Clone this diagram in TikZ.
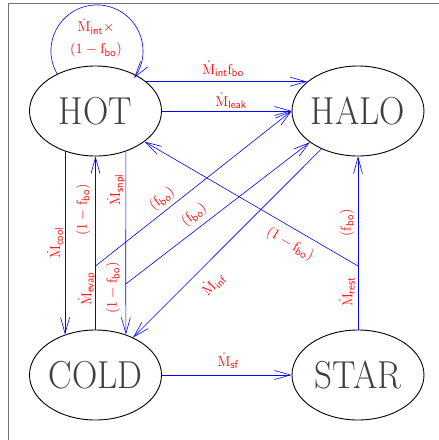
\documentclass[tikz,border=0pt]{standalone}
\usepackage{amsmath}
\usetikzlibrary{arrows.meta, shapes.geometric}
\definecolor{flowblue}{RGB}{0,0,255}
\definecolor{ratered}{RGB}{255,0,0}
\tikzset{
  phase/.style={draw=black, line width=0.9pt, ellipse, minimum width=132pt,
                minimum height=90pt, inner sep=0pt},
  phasename/.style={text=black!75, font=\fontsize{39}{39}\selectfont, xscale=0.9},
  flowline/.style={draw=flowblue, line width=0.6pt},
  flow/.style={flowline, -{Straight Barb[length=16pt, width=9pt]}},
  rate/.style={text=ratered, font=\fontsize{15}{17}\selectfont, inner sep=1pt}
}
\newcommand{\ratesub}[1]{\text{\fontsize{11}{11}\sffamily #1}}
\newcommand{\Mrate}[1]{$\dot{\mathrm{M}}_{\ratesub{#1}}$}
\newcommand{\fbo}{\mathrm{f}_{\ratesub{bo}}}

\begin{document}
\begin{tikzpicture}[x=1pt, y=-1pt]
  \useasboundingbox (0,0) rectangle (439,440);
  \draw[black!55, line width=0.8pt] (8,440) -- (8,3) -- (439,3);

  % phases
  \node[phase, label={[phasename]center:HOT}] (hot) at (95.5,111) {};
  \node[phase, label={[phasename]center:HALO}] (halo) at (358,111) {};
  \node[phase, label={[phasename]center:COLD}] (cold) at (95.5,375) {};
  \node[phase, label={[phasename]center:STAR}] (star) at (358,375) {};

  % split points
  \coordinate (evapsplit) at (95.5,266);
  \coordinate (snplsplit) at (125.7,284);
  \coordinate (restsplit) at (358,266);

  % flows
  \draw[flow] (hot.136) arc[start angle=-210, end angle=36, radius=46];
  \draw[flow] (hot.30) -- (halo.150);
  \draw[flow] (hot.east) -- (halo.west);
  \draw[flow] (hot.233) -- (cold.127);
  \draw[flowline] (cold.north) -- (evapsplit);
  \draw[flow] (evapsplit) -- (hot.south);
  \draw[flow] (evapsplit) -- (halo.west);
  \draw[flowline] (hot.307) -- (snplsplit);
  \draw[flow] (snplsplit) -- (cold.53);
  \draw[flow] (snplsplit) -- (halo.213);
  \draw[flow] (halo.226) -- (cold.45);
  \draw[flowline] (star.north) -- (restsplit);
  \draw[flow] (restsplit) -- (halo.south);
  \draw[flow] (restsplit) -- (hot.-32);
  \draw[flow] (cold.east) -- (star.west);

  % rates
  \node[rate, align=center] (lint) at (96,38) {\Mrate{int}$\times$\\[5pt]$(1-\fbo)$};
  \node[rate] (lintfbo) at (223,69) {\Mrate{int}$\fbo$};
  \node[rate] (lleak) at (231,101) {\Mrate{leak}};
  \node[rate, rotate=90] (lcool) at (55,243) {\Mrate{cool}};
  \node[rate, rotate=90] (levapup) at (83,210) {$(1-\fbo)$};
  \node[rate, rotate=90] (lsnpl) at (116,190) {\Mrate{snpl}};
  \node[rate, rotate=90] (levap) at (87,289) {\Mrate{evap}};
  \node[rate, rotate=90] (lsnpldown) at (113,288) {$(1-\fbo)$};
  \node[rate, rotate=38] (levaphalo) at (162,199) {$(\fbo)$};
  \node[rate, rotate=38] (lsnplhalo) at (194,215) {$(\fbo)$};
  \node[rate, rotate=45] (linf) at (213,284) {\Mrate{inf}};
  \node[rate, rotate=-30] (lresthot) at (290,244) {$(1-\fbo)$};
  \node[rate, rotate=90] (lresthalo) at (347,223) {$(\fbo)$};
  \node[rate, rotate=90] (lrest) at (347,292) {\Mrate{rest}};
  \node[rate] (lsf) at (228,361) {\Mrate{sf}};
\end{tikzpicture}
\end{document}
